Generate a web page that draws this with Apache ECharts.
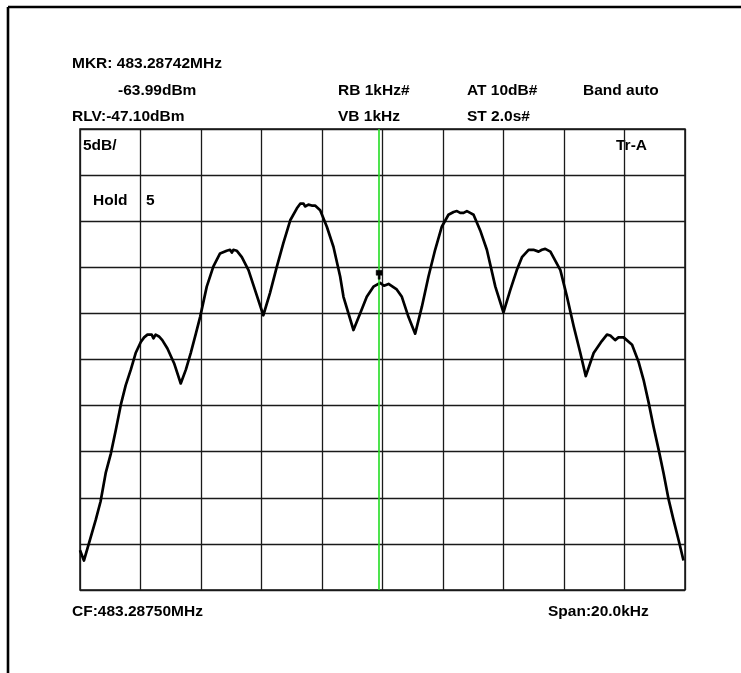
<!DOCTYPE html>
<html>
<head>
<meta charset="utf-8">
<script src="https://cdn.jsdelivr.net/npm/echarts@6/dist/echarts.min.js"></script>
<style>
html,body{margin:0;padding:0;background:#fff;}
#chart{width:741px;height:673px;}
</style>
</head>
<body>
<div id="chart"></div>
<script>
// Reference level and scale (from the display)
const RLV = -47.10;          // dBm, top of grid
const DB_PER_DIV = 5;        // 5dB/
const SPAN_KHZ = 20;         // Span 20.0 kHz
const markerFreq = -0.11;    // kHz offset from CF (green marker line)
const markerLevel = -63.99;  // dBm

// Trace: frequency offset from CF (kHz) and level (dBm)
const freqKHz = [
  -10.00,-9.87,-9.70,-9.48,-9.32,-9.15,-8.98,-8.82,-8.65,-8.49,-8.32,-8.16,-7.99,-7.88,-7.77,-7.63,-7.57,-7.50,-7.39,-7.28,
  -7.11,-6.89,-6.67,-6.50,-6.34,-6.17,-6.03,-5.81,-5.59,-5.37,-5.15,-5.04,-4.98,-4.93,-4.82,-4.65,-4.43,-4.21,-3.94,-3.72,
  -3.49,-3.28,-3.05,-2.83,-2.72,-2.61,-2.56,-2.45,-2.34,-2.23,-2.06,-1.84,-1.62,-1.40,-1.29,-0.96,-0.74,-0.52,-0.30,-0.08,
  0.05,0.20,0.47,0.64,0.86,1.08,1.30,1.52,1.74,1.96,2.18,2.35,2.46,2.57,2.68,2.79,2.90,3.01,3.23,3.45,
  3.73,4.00,4.22,4.44,4.61,4.83,4.99,5.05,5.16,5.27,5.38,5.55,5.60,5.88,6.10,6.32,6.54,6.72,6.98,7.25,
  7.42,7.53,7.69,7.80,7.97,8.03,8.25,8.47,8.63,8.80,8.96,9.13,9.29,9.46,9.62,9.79,9.95
];
const levelDBm = [
  -92.8,-93.9,-92.0,-89.5,-87.5,-84.4,-82.3,-79.8,-77.0,-74.9,-73.2,-71.4,-70.2,-69.7,-69.4,-69.4,-69.8,-69.4,-69.6,-70.0,
  -70.9,-72.5,-74.7,-73.2,-71.4,-69.3,-67.5,-64.2,-62.0,-60.6,-60.3,-60.2,-60.5,-60.2,-60.3,-61.0,-62.4,-64.6,-67.3,-64.9,
  -62.0,-59.5,-57.0,-55.7,-55.2,-55.2,-55.5,-55.3,-55.4,-55.4,-55.9,-57.7,-59.9,-63.1,-65.3,-68.9,-67.1,-65.3,-64.2,-63.8,
  -64.1,-63.9,-64.5,-65.3,-67.5,-69.3,-66.4,-63.1,-60.2,-57.7,-56.4,-56.1,-56.0,-56.2,-56.2,-56.0,-56.2,-56.4,-58.1,-60.2,
  -64.2,-67.0,-64.6,-62.4,-61.0,-60.2,-60.2,-60.0,-60.4,-60.2,-60.1,-60.4,-60.6,-62.4,-65.3,-68.5,-71.4,-73.9,-71.4,-70.1,
  -69.4,-69.5,-70.0,-69.7,-69.7,-69.7,-70.5,-72.4,-74.3,-76.8,-79.4,-81.9,-84.4,-87.3,-89.5,-91.7,-93.9
];

// Header / footer texts
const headerTexts = [
  {t:'MKR: 483.28742MHz', x:72,  y:64},
  {t:'-63.99dBm',         x:118, y:91},
  {t:'RLV:-47.10dBm',     x:72,  y:117},
  {t:'RB 1kHz#',          x:338, y:91},
  {t:'VB 1kHz',           x:338, y:117},
  {t:'AT 10dB#',          x:467, y:91},
  {t:'ST 2.0s#',          x:467, y:117},
  {t:'Band auto',         x:583, y:91},
  {t:'5dB/',              x:83,  y:146},
  {t:'Tr-A',              x:616, y:146},
  {t:'Hold',              x:93,  y:201},
  {t:'5',                 x:146, y:201},
  {t:'CF:483.28750MHz',   x:72,  y:612},
  {t:'Span:20.0kHz',      x:548, y:612}
];

const trace = freqKHz.map((f, i) => [f, levelDBm[i] - RLV]);

const chart = echarts.init(document.getElementById('chart'), null, {renderer: 'canvas'});
chart.setOption({
  backgroundColor: '#fff',
  animation: false,
  grid: {left: 80, top: 129, width: 605, height: 461, show: true, borderColor: '#111', borderWidth: 1.5, backgroundColor: 'transparent'},
  xAxis: {
    type: 'value', min: -SPAN_KHZ / 2, max: SPAN_KHZ / 2, interval: 2,
    axisLine: {show: false}, axisTick: {show: false}, axisLabel: {show: false},
    splitLine: {show: true, lineStyle: {color: '#1a1a1a', width: 1.3}}
  },
  yAxis: {
    type: 'value', min: -10 * DB_PER_DIV, max: 0, interval: DB_PER_DIV,
    axisLine: {show: false}, axisTick: {show: false}, axisLabel: {show: false},
    splitLine: {show: true, lineStyle: {color: '#1a1a1a', width: 1.3}}
  },
  series: [
    {
      type: 'line', data: trace, showSymbol: false, symbol: 'none', smooth: false,
      lineStyle: {color: '#000', width: 2.7, join: 'round'},
      z: 3,
      markLine: {
        silent: true, symbol: ['none', 'none'], label: {show: false},
        lineStyle: {color: '#22dd22', width: 1.6, type: 'solid'},
        data: [{xAxis: markerFreq}]
      }
    },
    {
      type: 'scatter', data: [[markerFreq, markerLevel - RLV]],
      symbol: 'path://M0,0 L6,0 L6,5 L4,5 L4,9 L2,9 L2,5 L0,5 Z',
      symbolSize: [6, 9], symbolOffset: [0, -10], symbolKeepAspect: false,
      itemStyle: {color: '#000', borderColor: '#000', borderWidth: 0.5, opacity: 1},
      z: 20, zlevel: 0, silent: true
    }
  ],
  graphic: [
    {type: 'line', shape: {x1: 8, y1: 7, x2: 741, y2: 7}, style: {stroke: '#000', lineWidth: 2.6}},
    {type: 'line', shape: {x1: 8, y1: 7, x2: 8, y2: 673}, style: {stroke: '#000', lineWidth: 2.6}}
  ].concat(headerTexts.map(h => ({
    type: 'text', x: h.x, y: h.y,
    style: {
      text: h.t, fontFamily: 'Liberation Sans', fontWeight: 'bold', fontSize: 15.5,
      fill: '#000', align: 'left', verticalAlign: 'middle'
    }
  })))
});
</script>
</body>
</html>
